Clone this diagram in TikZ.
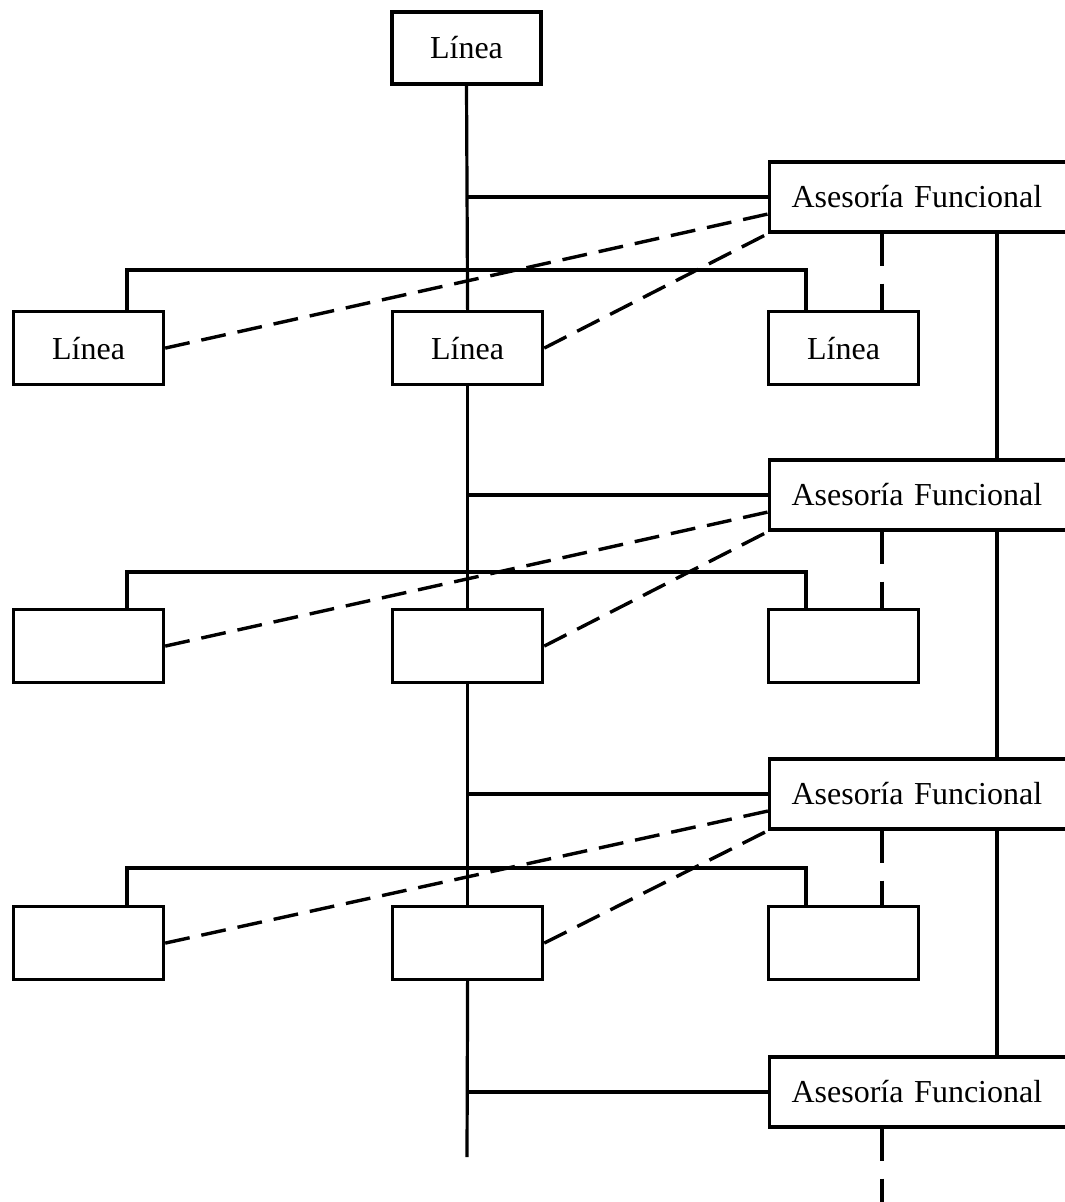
\documentclass[tikz,border=0pt]{standalone}
\usepackage{fontspec}
\setmainfont{Liberation Serif}
\usetikzlibrary{calc}
\begin{document}
\begin{tikzpicture}[x=1pt,y=-1pt,
  every node/.style={font=\fontsize{32}{38}\selectfont},
  conn/.style={line width=3.2pt},
  staff/.style={line width=3.4pt, dash pattern=on 25pt off 12pt},
  staffdown/.style={line width=3.4pt, dash pattern=on 32pt off 18pt},
  unitbox/.style={draw, line width=3.2pt, minimum width=150pt, minimum height=73pt, inner sep=0pt},
  advbox/.style={draw, line width=3.2pt, minimum height=70pt, text width=290pt, align=left,
                 inner xsep=22pt, inner ysep=0pt, anchor=west}
]
\useasboundingbox (0,0) rectangle (1065,1202);
\clip (0,0) rectangle (1065,1202);

% top line position
\node[unitbox, minimum width=149pt, minimum height=72pt] (top) at (466.5,48) {Línea};

% functional advisory units
\node[advbox] (af1) at (768,197) {Asesoría Funcional};
\node[advbox] (af2) at (768,495) {Asesoría Funcional};
\node[advbox] (af3) at (768,794) {Asesoría Funcional};
\node[advbox] (af4) at (768,1092) {Asesoría Funcional};

% line units, three rows
\node[unitbox, anchor=north west] (l1) at (12,310) {Línea};
\node[unitbox, anchor=north west] (m1) at (391,310) {Línea};
\node[unitbox, anchor=north west] (r1) at (767,310) {Línea};

\node[unitbox, anchor=north west] (l2) at (12,608) {};
\node[unitbox, anchor=north west] (m2) at (391,608) {};
\node[unitbox, anchor=north west] (r2) at (767,608) {};

\node[unitbox, anchor=north west] (l3) at (12,905) {};
\node[unitbox, anchor=north west] (m3) at (391,905) {};
\node[unitbox, anchor=north west] (r3) at (767,905) {};

\coordinate (mainend) at (467,1157);
\coordinate (lastdash) at (882,1210);

% main line of authority
\draw[conn] (top.south) -- (m1.north);
\draw[conn] (m1.south) -- (m2.north);
\draw[conn] (m2.south) -- (m3.north);
\draw[conn] (m3.south) -- (mainend);

% links from the main line to each advisory unit
\foreach \a in {af1,af2,af3,af4}
  \draw[conn] (\a.west) -- (\a.west -| top.south);

% horizontal buses above each row
\foreach \r/\y in {1/40,2/36,3/37} {
  \draw[conn] ($(l\r.north west)+(115,0)$) -- ++(0,-\y) -| ($(r\r.north west)+(39,0)$);
}

% advisory chain on the right
\draw[conn] ($(af1.south west)+(229,0)$) -- ($(af2.north west)+(229,0)$);
\draw[conn] ($(af2.south west)+(229,0)$) -- ($(af3.north west)+(229,0)$);
\draw[conn] ($(af3.south west)+(229,0)$) -- ($(af4.north west)+(229,0)$);

% functional (dashed) relations
\foreach \r in {1,2,3} {
  \coordinate (d\r) at ($(af\r.south west)+(114,0)$);
  \draw[staff] (l\r.east) -- ($(af\r.west)+(0,17)$);
  \draw[staff] (m\r.east) -- (af\r.south west);
  \draw[staffdown] (d\r) -- (d\r |- r\r.north);
}
\coordinate (d4) at ($(af4.south west)+(114,0)$);
\draw[staffdown] (d4) -- (d4 |- lastdash);
\end{tikzpicture}
\end{document}
